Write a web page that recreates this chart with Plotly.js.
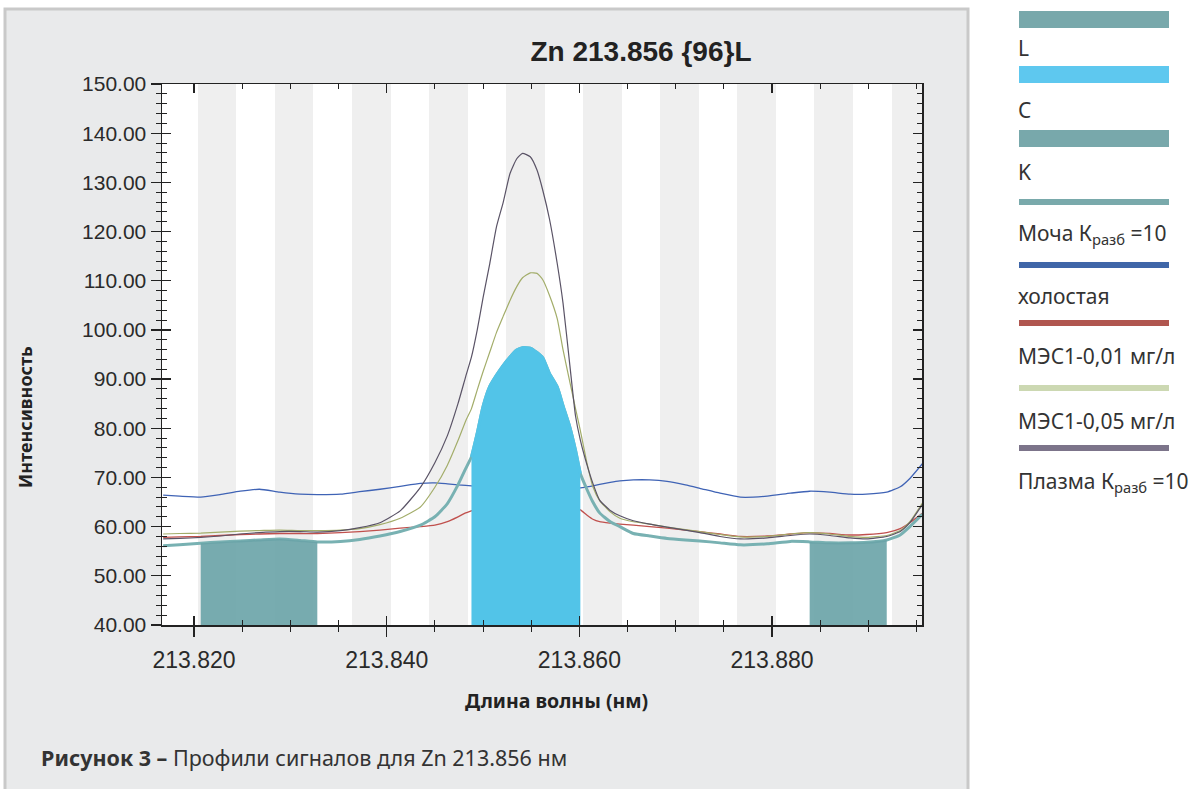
<!DOCTYPE html>
<html><head><meta charset="utf-8">
<script src="https://cdn.plot.ly/plotly-3.0.1.min.js"></script>
<style>html,body{margin:0;padding:0;background:#fff;} #chart{width:1192px;height:789px;}</style>
</head><body><div id="chart"></div>
<script>
// ---- data ----
const wavelength = [
 213.8168, 213.8185, 213.8207, 213.8227, 213.8248, 213.8268, 213.8289, 213.8310, 213.8328, 213.8352,
 213.8372, 213.8393, 213.8414, 213.8435, 213.8450, 213.8463, 213.8474, 213.8482, 213.8488, 213.8494,
 213.8500, 213.8507, 213.8514, 213.8521, 213.8528, 213.8535, 213.8541, 213.8549, 213.8556, 213.8562,
 213.8569, 213.8577, 213.8583, 213.8590, 213.8596, 213.8601, 213.8608, 213.8614, 213.8621, 213.8632,
 213.8642, 213.8656, 213.8673, 213.8691, 213.8710, 213.8725, 213.8746, 213.8767, 213.8795, 213.8819,
 213.8839, 213.8860, 213.8881, 213.8898, 213.8919, 213.8933, 213.8943, 213.8956];

const urine = [ // Моча Кразб=10
 56.1, 56.3, 56.6, 56.9, 57.1, 57.3, 57.5, 57.2, 56.9, 57.0,
 57.4, 58.1, 59.0, 60.3, 62.0, 64.7, 68.5, 71.8, 74.2, 79.0,
 84.4, 88.5, 90.8, 92.8, 94.5, 95.9, 96.4, 96.3, 95.4, 94.3,
 91.1, 88.4, 84.6, 80.3, 75.5, 70.8, 67.5, 65.0, 62.8, 61.0,
 60.0, 58.6, 58.1, 57.6, 57.3, 57.1, 56.7, 56.3, 56.5, 57.0,
 56.9, 56.7, 56.7, 56.8, 57.3, 58.3, 60.0, 62.5];

const blank = [ // холостая
 66.4, 66.2, 66.0, 66.5, 67.2, 67.6, 67.0, 66.6, 66.5, 66.6,
 67.1, 67.6, 68.2, 68.8, 68.9, 68.7, 68.5, 68.4, 68.3, 68.2,
 68.1, 68.0, 68.0, 67.9, 67.9, 67.8, 67.8, 67.8, 67.8, 67.8,
 67.8, 67.8, 67.8, 67.8, 67.9, 67.9, 68.1, 68.3, 68.6, 69.0,
 69.3, 69.5, 69.5, 69.2, 68.5, 67.8, 66.8, 66.0, 66.2, 66.8,
 67.2, 67.0, 66.6, 66.6, 67.0, 68.1, 69.8, 72.8];

const mes001 = [ // МЭС1-0,01 мг/л
 57.8, 57.9, 58.0, 58.2, 58.4, 58.5, 58.6, 58.6, 58.6, 58.8,
 59.0, 59.3, 59.7, 60.0, 60.3, 61.0, 62.0, 62.8, 63.2, 63.8,
 64.5, 65.3, 66.0, 66.6, 67.1, 67.4, 67.6, 67.6, 67.4, 67.1,
 66.6, 66.0, 65.3, 64.5, 63.8, 63.4, 62.3, 61.5, 61.0, 60.7,
 60.5, 60.3, 60.0, 59.7, 59.3, 59.0, 58.5, 58.0, 58.1, 58.5,
 58.8, 58.6, 58.3, 58.4, 58.8, 59.6, 60.8, 62.7];

const mes005 = [ // МЭС1-0,05 мг/л
 58.5, 58.6, 58.7, 58.9, 59.1, 59.2, 59.3, 59.2, 59.2, 59.3,
 59.6, 60.4, 61.7, 64.0, 68.0, 72.5, 77.5, 81.5, 84.0, 87.8,
 91.5, 95.5, 99.5, 102.8, 106.0, 108.8, 110.6, 111.6, 111.5, 110.2,
 107.0, 102.3, 96.0, 89.5, 84.0, 79.5, 72.8, 68.1, 65.3, 63.0,
 61.7, 61.0, 60.5, 59.9, 59.4, 59.0, 58.4, 57.9, 58.0, 58.5,
 58.8, 58.5, 58.0, 57.8, 58.2, 59.2, 61.0, 64.8];

const plasma = [ // Плазма Кразб=10
 57.5, 57.6, 57.8, 58.1, 58.5, 58.8, 59.0, 59.0, 58.9, 59.2,
 59.8, 60.8, 63.2, 68.0, 73.0, 78.5, 85.0, 90.5, 94.5, 100.0,
 106.5, 113.5, 121.0, 126.0, 131.8, 134.8, 135.9, 135.2, 132.5, 128.4,
 122.5, 113.5, 105.5, 93.0, 82.5, 77.6, 72.5, 68.8, 65.4, 63.3,
 62.2, 61.2, 60.5, 59.9, 59.3, 58.8, 58.0, 57.5, 57.7, 58.2,
 58.5, 58.2, 57.7, 57.5, 58.0, 59.0, 60.8, 64.5];

// integration windows (L = left background, C = centre/peak, K = right background)
const regionNames = ['L', 'C', 'K'];
const regionStart = [213.8207, 213.8488, 213.8839];
const regionEnd   = [213.8328, 213.8601, 213.8919];

// detector pixel bands drawn as background stripes
const stripeStart = [213.8204, 213.8284, 213.8364, 213.8444, 213.8524, 213.8604, 213.8684, 213.8764, 213.8844, 213.8924];
const stripeWidth = 0.004;

const legendNames = ['L', 'C', 'K', 'Моча К<sub>разб</sub> =10', 'холостая', 'МЭС1-0,01 мг/л', 'МЭС1-0,05 мг/л', 'Плазма К<sub>разб</sub> =10'];
const xTitle = 'Длина волны (нм)';
const yTitle = 'Интенсивность';
const chartTitle = 'Zn 213.856 {96}L';
const caption = '<b>Рисунок 3 –</b> Профили сигналов для Zn 213.856 нм';

// ---- styles ----
const legendColors = ['#78a8ab', '#5ec8ef', '#78a8ab', '#79a9ab', '#3f66a8', '#b0564f', '#ccd8b2', '#7c748a'];
const legendBarTop = [11, 66, 130, 199, 262, 320, 385, 445];
const legendBarH   = [17, 17, 17, 6, 6, 6, 6, 6];
const legendLabelY = [48, 110, 172, 234, 296, 356, 421, 482];

const seriesList = [
  {y: blank,  color: '#3f63b5', width: 1.3},
  {y: mes001, color: '#c0504d', width: 1.3},
  {y: mes005, color: '#a3ad6a', width: 1.2},
  {y: plasma, color: '#5a5366', width: 1.2},
  {y: urine,  color: '#78b1b2', width: 3}
];
const regionFill = ['rgba(105,163,167,0.9)', '#52c4e8', 'rgba(105,163,167,0.9)'];
const regionEdge = [0, 3, 0];

const PL = 162, PR = 922, PT = 84, PB = 625;
const fx = px => (px - PL) / (PR - PL);
const fy = py => (PB - py) / (PB - PT);

const traces = [];
// stripes
traces.push({
  type: 'bar', x: stripeStart.map(s => s + stripeWidth / 2), y: stripeStart.map(() => 110), base: 40,
  width: stripeWidth, marker: {color: '#efefef', line: {width: 0}}, hoverinfo: 'skip', showlegend: false
});
// lines
seriesList.forEach(s => traces.push({
  type: 'scatter', mode: 'lines', x: wavelength, y: s.y,
  line: {color: s.color, width: s.width, shape: 'spline', smoothing: 0.5}, hoverinfo: 'skip', showlegend: false
}));
// region fills under the urine profile
regionNames.forEach((n, i) => {
  const xs = [], ys = [];
  wavelength.forEach((w, j) => { if (w >= regionStart[i] - 1e-6 && w <= regionEnd[i] + 1e-6) { xs.push(w); ys.push(urine[j]); } });
  traces.push({type: 'scatter', mode: 'lines', x: xs, y: ys, fill: 'tozeroy', fillcolor: regionFill[i],
    line: {width: regionEdge[i], color: regionFill[i], shape: 'spline', smoothing: 0.5}, hoverinfo: 'skip', showlegend: false, name: n});
});
// overlay axes for inner ticks
traces.push({type: 'scatter', x: [], y: [], xaxis: 'x2', yaxis: 'y2', showlegend: false});

const xr = [213.81668, 213.89556];
const shapes = [
  {type: 'rect', xref: 'paper', yref: 'paper', x0: fx(5), x1: fx(968), y0: fy(840), y1: fy(9),
   fillcolor: '#e9eaeb', line: {color: '#c9c9c9', width: 3}, layer: 'below'},
  {type: 'rect', xref: 'paper', yref: 'paper', x0: 0, x1: 1, y0: 0, y1: 1,
   fillcolor: '#ffffff', line: {width: 0}, layer: 'below'}
];
legendNames.forEach((n, i) => shapes.push({
  type: 'rect', xref: 'paper', yref: 'paper', x0: fx(1019), x1: fx(1169),
  y0: fy(legendBarTop[i] + legendBarH[i]), y1: fy(legendBarTop[i]),
  fillcolor: legendColors[i], line: {width: 0}
}));

const annotations = [];
legendNames.forEach((n, i) => annotations.push({
  xref: 'paper', yref: 'paper', x: fx(1016), y: fy(legendLabelY[i]), xanchor: 'left', yanchor: 'middle',
  text: n, showarrow: false, font: {family: 'Noto Sans', size: 21, color: '#333'}
}));
annotations.push({xref: 'paper', yref: 'paper', x: fx(556), y: fy(700), xanchor: 'center', yanchor: 'middle',
  text: '<b>' + xTitle + '</b>', showarrow: false, font: {family: 'Noto Sans', size: 19.5, color: '#222'}});
annotations.push({xref: 'paper', yref: 'paper', x: fx(25), y: fy(417), xanchor: 'center', yanchor: 'middle', textangle: -90,
  text: '<b>' + yTitle + '</b>', showarrow: false, font: {family: 'Noto Sans', size: 18, color: '#222'}});
annotations.push({xref: 'paper', yref: 'paper', x: fx(39), y: fy(757), xanchor: 'left', yanchor: 'middle',
  text: caption, showarrow: false, font: {family: 'Noto Sans', size: 21.5, color: '#333'}});

const axCommon = {showgrid: false, zeroline: false, showline: true, linecolor: '#222', linewidth: 1.5, tickcolor: '#222', tickwidth: 1.3};
const layout = {
  width: 1192, height: 789,
  margin: {l: PL, r: 1192 - PR, t: PT, b: 789 - PB},
  paper_bgcolor: '#ffffff', plot_bgcolor: 'rgba(0,0,0,0)',
  showlegend: false, bargap: 0,
  title: {text: '<b>' + chartTitle + '</b>', xref: 'paper', x: fx(641), xanchor: 'center', yref: 'container', y: 1 - 51 / 789, yanchor: 'middle',
    font: {family: 'Liberation Sans', size: 28, color: '#222'}},
  xaxis: Object.assign({}, axCommon, {range: xr, tick0: 213.82, dtick: 0.02, tickformat: '.3f', ticks: 'outside', ticklen: 10, mirror: true,
    ticklabelstandoff: 4,
    minor: {tick0: 213.82, dtick: 0.005, ticks: 'outside', ticklen: 5, tickcolor: '#222', tickwidth: 1},
    tickfont: {family: 'Liberation Sans', size: 23, color: '#2a2a2a'}}),
  yaxis: Object.assign({}, axCommon, {range: [40, 150], tick0: 40, dtick: 10, tickformat: '.2f', ticks: 'outside', ticklen: 10, mirror: true,
    minor: {tick0: 40, dtick: 2, ticks: 'outside', ticklen: 5, tickcolor: '#222', tickwidth: 1},
    tickfont: {family: 'Liberation Sans', size: 21, color: '#2a2a2a'}}),
  xaxis2: Object.assign({}, axCommon, {overlaying: 'x', anchor: 'y2', range: xr, tick0: 213.82, dtick: 0.02, ticks: 'inside', ticklen: 9, mirror: 'ticks',
    showticklabels: false, minor: {tick0: 213.82, dtick: 0.005, ticks: 'inside', ticklen: 5, tickcolor: '#222', tickwidth: 1}}),
  yaxis2: Object.assign({}, axCommon, {overlaying: 'y', anchor: 'x2', range: [40, 150], tick0: 40, dtick: 10, ticks: 'inside', ticklen: 9, mirror: 'ticks',
    showticklabels: false, minor: {tick0: 40, dtick: 2, ticks: 'inside', ticklen: 5, tickcolor: '#222', tickwidth: 1}}),
  shapes: shapes,
  annotations: annotations
};
Plotly.newPlot('chart', traces, layout, {displayModeBar: false, staticPlot: true});
</script></body></html>
